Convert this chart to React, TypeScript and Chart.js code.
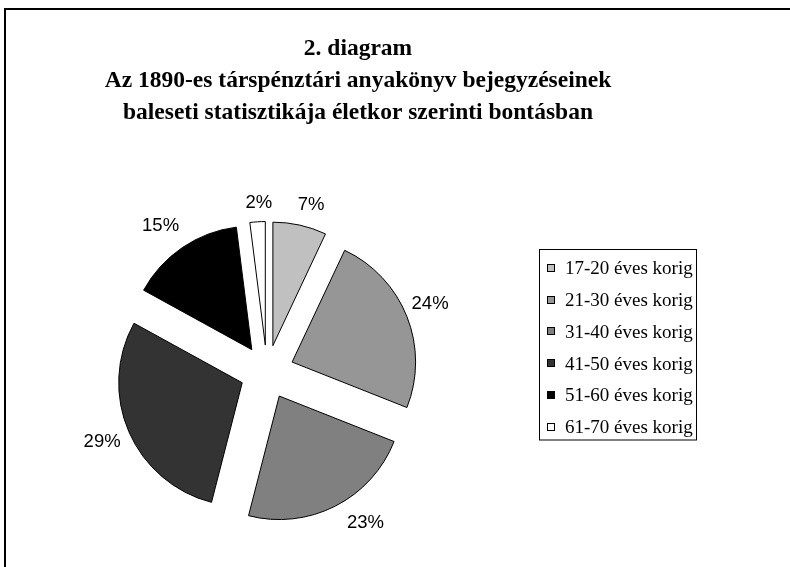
import React, { useEffect, useRef } from "react";
import { Chart, registerables } from "chart.js";

Chart.register(...registerables);

const categories = [
  "17-20 éves korig",
  "21-30 éves korig",
  "31-40 éves korig",
  "41-50 éves korig",
  "51-60 éves korig",
  "61-70 éves korig",
];
const shares = [7, 24, 23, 29, 15, 2];
const sliceColors = ["#C0C0C0", "#969696", "#808080", "#333333", "#000000", "#FFFFFF"];
const titleLines = [
  "2. diagram",
  "Az 1890-es társpénztári anyakönyv bejegyzéseinek",
  "baleseti statisztikája életkor szerinti bontásban",
];

// style constants
const EXPLODE = 27;
const labelNudges = [
  [5, 0],
  [-8, -6],
  [15, -4],
  [4, 0],
  [-3, -4],
  [3, 2],
];

const explodePlugin = {
  id: "explode",
  afterDatasetUpdate(chart: any, args: any) {
    const area = chart.chartArea;
    const cx = (area.left + area.right) / 2;
    const cy = (area.top + area.bottom) / 2;
    args.meta.data.forEach((arc: any) => {
      const mid = (arc.startAngle + arc.endAngle) / 2;
      arc.x = cx + Math.cos(mid) * EXPLODE;
      arc.y = cy + Math.sin(mid) * EXPLODE;
    });
  },
};

const decorPlugin = {
  id: "decor",
  beforeDraw(chart: any) {
    const ctx = chart.ctx as CanvasRenderingContext2D;
    ctx.save();
    ctx.fillStyle = "#ffffff";
    ctx.fillRect(0, 0, chart.width, chart.height);
    ctx.strokeStyle = "#000000";
    ctx.lineWidth = 2;
    ctx.strokeRect(5, 9, chart.width + 40, chart.height + 40);
    ctx.restore();
  },
  afterDraw(chart: any) {
    const ctx = chart.ctx as CanvasRenderingContext2D;
    ctx.save();
    ctx.fillStyle = "#000000";

    // Title
    ctx.font = "bold 23.5px 'Liberation Serif', 'Times New Roman', serif";
    ctx.textAlign = "center";
    ctx.textBaseline = "alphabetic";
    titleLines.forEach((t, i) => ctx.fillText(t, 358, 54.5 + i * 32));

    // Percentage labels
    const area = chart.chartArea;
    const ccx = (area.left + area.right) / 2;
    const ccy = (area.top + area.bottom) / 2;
    const meta = chart.getDatasetMeta(0);
    const total = shares.reduce((a, b) => a + b, 0);
    ctx.font = "18.5px 'Liberation Sans', Arial, sans-serif";
    ctx.textAlign = "center";
    ctx.textBaseline = "middle";
    meta.data.forEach((arc: any, i: number) => {
      const mid = (arc.startAngle + arc.endAngle) / 2;
      const dx = Math.cos(mid);
      const dy = Math.sin(mid);
      const text = Math.round((shares[i] / total) * 100) + "%";
      const w = ctx.measureText(text).width;
      const h = 14;
      const r = arc.outerRadius + EXPLODE + 15;
      const x = ccx + r * dx + (w / 2) * dx + labelNudges[i][0];
      const y = ccy + r * dy + (h / 2) * dy + labelNudges[i][1];
      ctx.fillText(text, x, y + 1);
    });

    // Legend
    ctx.lineWidth = 1;
    ctx.strokeStyle = "#000000";
    ctx.strokeRect(539.5, 249.5, 157, 190.5);
    ctx.font = "19px 'Liberation Serif', 'Times New Roman', serif";
    ctx.textAlign = "left";
    ctx.textBaseline = "alphabetic";
    categories.forEach((c, i) => {
      const cy = 267.7 + i * 31.8;
      const top = Math.round(cy - 4);
      ctx.fillStyle = sliceColors[i];
      ctx.fillRect(547, top, 8, 8);
      ctx.strokeStyle = "#000000";
      ctx.strokeRect(547.5, top + 0.5, 7, 7);
      ctx.fillStyle = "#000000";
      ctx.fillText(c, 565, cy + 6.4);
    });
    ctx.restore();
  },
};

export default function App() {
  const canvasRef = useRef<HTMLCanvasElement | null>(null);

  useEffect(() => {
    const canvas = canvasRef.current;
    if (!canvas) return;
    const chart = new Chart(canvas, {
      type: "pie",
      data: {
        labels: categories,
        datasets: [
          {
            data: shares,
            backgroundColor: sliceColors,
            borderColor: "#000000",
            borderWidth: 1,
            borderJoinStyle: "miter",
            offset: 0,
            hoverOffset: 0,
          } as any,
        ],
      },
      options: {
        responsive: false,
        animation: false,
        devicePixelRatio: 1,
        radius: 123.5,
        events: [],
        layout: { padding: { left: 107, right: 363, top: 212, bottom: 35 } },
        plugins: {
          legend: { display: false },
          title: { display: false },
          tooltip: { enabled: false },
        },
      } as any,
      plugins: [explodePlugin, decorPlugin],
    });
    return () => chart.destroy();
  }, []);

  return (
    <div style={{ position: "fixed", left: 0, top: 0, width: 790, height: 567, background: "#fff" }}>
      <canvas ref={canvasRef} width={790} height={567} style={{ display: "block" }} />
    </div>
  );
}
